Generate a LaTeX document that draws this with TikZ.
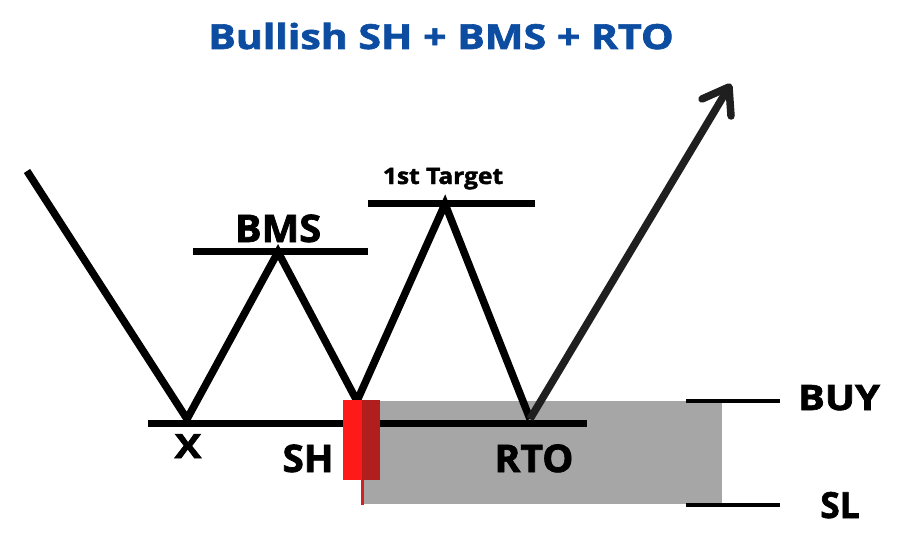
\documentclass[tikz,border=0pt]{standalone}
\usepackage{fontspec}
\setmainfont{Open Sans}[BoldFeatures={FakeBold=1.8}]
\definecolor{titleblue}{HTML}{0D4DA1}
\definecolor{zonegray}{HTML}{A6A6A6}
\definecolor{candlered}{HTML}{FF1A1A}
\definecolor{candledark}{HTML}{B01E1E}
\definecolor{wickred}{HTML}{D42020}
\begin{document}
\begin{tikzpicture}[x=1pt,y=-1pt,
  zig/.style={line width=7.5pt, black, line join=miter},
  level/.style={line width=7pt, black},
  thinlevel/.style={line width=4pt, black},
  lbl/.style={inner sep=0pt, anchor=base, transform shape},
]
\useasboundingbox (0,0) rectangle (901,559);
% coordinates
\coordinate (start) at (27,171);
\coordinate (xlow) at (187,419);
\coordinate (bmspk) at (278,252);
\coordinate (shlow) at (357,401);
\coordinate (tgtpk) at (445,204);
\coordinate (rtolow) at (530,419);
\coordinate (tip) at (729,87);
\coordinate (wingA) at (702,99);
\coordinate (wingB) at (731,116);
% zone
\fill[zonegray] (363,401) rectangle (722,504);
% level lines
\draw[level] (148,423) coordinate (baseL) -- (587,423) coordinate (baseR);
\draw[level] (193,251) coordinate (bmsL) -- (368,251) coordinate (bmsR);
\draw[level] (368,203) coordinate (tgtL) -- (535,203) coordinate (tgtR);
\draw[thinlevel] (686,401) coordinate (buyL) -- (780,401) coordinate (buyR);
\draw[thinlevel] (686,505) coordinate (slL) -- (780,505) coordinate (slR);
% price path
\draw[zig] (start) -- (xlow) -- (bmspk) -- (shlow) -- (tgtpk) -- (rtolow);
\draw[line width=7.5pt, black!88] (rtolow) -- (tip);
\draw[line width=7.5pt, black!88, line cap=round, line join=round] (wingA) -- (tip) -- (wingB);
% candle
\draw[wickred, line width=3pt] (362.5,470) coordinate (wickT) -- (362.5,505) coordinate (wickB);
\fill[candlered] (343,400) rectangle (362,480);
\fill[candledark] (362,400) rectangle (380,480);
% labels
\node[lbl, xscale=1.19, text=titleblue, font=\bfseries\fontsize{34.5}{40}\selectfont] (title) at (441,49) {Bullish SH + BMS + RTO};
\node[lbl, xscale=1.09, font=\bfseries\fontsize{22.5}{26}\selectfont] (tgt) at (443,184) {1st Target};
\node[lbl, xscale=1.05, font=\bfseries\fontsize{38}{44}\selectfont] (bms) at (278,242) {BMS};
\node[lbl, xscale=1.2, font=\bfseries\fontsize{33.5}{38}\selectfont] (xl) at (188,458) {X};
\node[lbl, xscale=1.02, font=\bfseries\fontsize{38}{44}\selectfont] (sh) at (308,472) {SH};
\node[lbl, xscale=1.03, font=\bfseries\fontsize{38}{44}\selectfont] (rto) at (534,472) {RTO};
\node[lbl, xscale=1.14, font=\bfseries\fontsize{35}{40}\selectfont] (buy) at (839,410) {BUY};
\node[lbl, xscale=0.98, font=\bfseries\fontsize{36}{40}\selectfont] (sl) at (840,518) {SL};
\end{tikzpicture}
\end{document}
